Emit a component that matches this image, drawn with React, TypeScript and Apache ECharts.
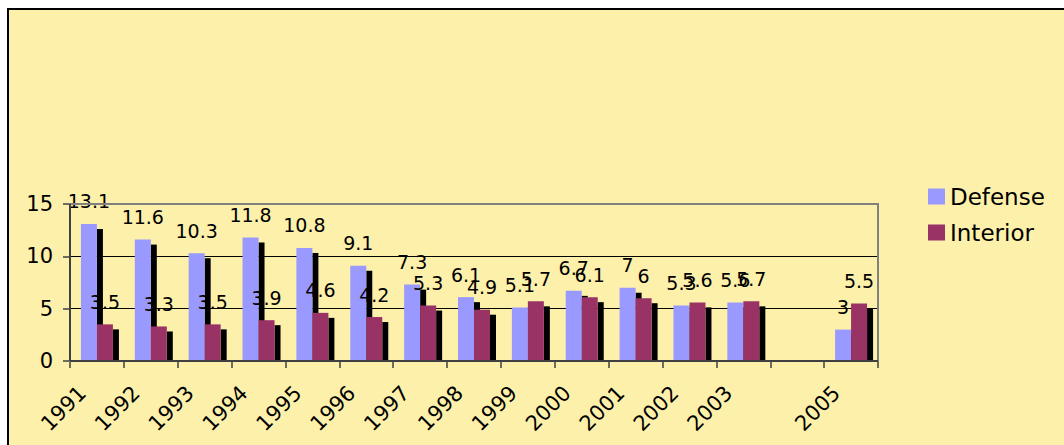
import React, { useEffect, useRef } from "react";
import * as echarts from "echarts";

const years = ["1991", "1992", "1993", "1994", "1995", "1996", "1997", "1998", "1999", "2000", "2001", "2002", "2003", "", "2005"];
const defense: (number | null)[] = [13.1, 11.6, 10.3, 11.8, 10.8, 9.1, 7.3, 6.1, 5.1, 6.7, 7, 5.3, 5.6, null, 3];
const interior: (number | null)[] = [3.5, 3.3, 3.5, 3.9, 4.6, 4.2, 5.3, 4.9, 5.7, 6.1, 6, 5.6, 5.7, null, 5.5];
const yTicks = { min: 0, max: 15, interval: 5 };

const FONT = "DejaVu Sans";
const BAR_W = 16;

function shadowRenderer(offset: number) {
  return (params: any, api: any) => {
    const idx = api.value(0);
    const v = api.value(1);
    if (v == null || isNaN(v)) return null;
    const top = api.coord([idx, v]);
    const base = api.coord([idx, 0]);
    const h = base[1] - top[1] - 5;
    if (h <= 0) return null;
    return {
      type: "rect",
      shape: { x: top[0] + offset, y: top[1] + 5, width: 6, height: h },
      style: { fill: "#000" },
    };
  };
}

export default function App() {
  const ref = useRef<HTMLDivElement>(null);
  useEffect(() => {
    if (!ref.current) return;
    const chart = echarts.init(ref.current, undefined, { renderer: "svg" });
    const labelStyle = {
      show: true,
      position: "top",
      distance: 13,
      color: "#000",
      fontFamily: FONT,
      fontSize: 19,
    };
    chart.setOption({
      animation: false,
      backgroundColor: "transparent",
      grid: { left: 70, right: 186, top: 204, bottom: 84, containLabel: false },
      legend: {
        orient: "vertical",
        left: 928,
        top: 185,
        padding: 0,
        itemWidth: 17,
        itemHeight: 16,
        itemGap: 13,
        icon: "rect",
        data: ["Defense", "Interior"],
        textStyle: { fontFamily: FONT, fontSize: 23, color: "#000", lineHeight: 22 },
      },
      xAxis: {
        type: "category",
        data: years,
        boundaryGap: true,
        axisLine: { show: true, lineStyle: { color: "#404040", width: 2 } },
        axisTick: { show: true, alignWithLabel: false, interval: 0, length: 7, lineStyle: { color: "#404040", width: 1.5 } },
        axisLabel: {
          interval: 0,
          rotate: 45,
          margin: 43,
          color: "#000",
          fontFamily: FONT,
          fontSize: 21,
          verticalAlign: "bottom",
          padding: [0, 0, 10, 0],
        },
        splitLine: { show: false },
      },
      yAxis: {
        type: "value",
        min: yTicks.min,
        max: yTicks.max,
        interval: yTicks.interval,
        axisLine: { show: true, lineStyle: { color: "#404040", width: 2 } },
        axisTick: { show: true, length: 7, lineStyle: { color: "#404040", width: 1.5 } },
        axisLabel: { margin: 17, color: "#000", fontFamily: FONT, fontSize: 21 },
        splitLine: { show: true, lineStyle: { color: "#000", width: 1 } },
      },
      graphic: [
        {
          type: "rect",
          z: 100,
          shape: { x: 70, y: 204, width: 808, height: 157 },
          style: { fill: "none", stroke: "#808080", lineWidth: 2 },
          silent: true,
        },
        {
          type: "line",
          z: 101,
          shape: { x1: 70, y1: 204, x2: 70, y2: 361 },
          style: { stroke: "#404040", lineWidth: 2 },
          silent: true,
        },
        {
          type: "line",
          z: 101,
          shape: { x1: 70, y1: 361, x2: 878, y2: 361 },
          style: { stroke: "#404040", lineWidth: 2 },
          silent: true,
        },
      ],
      series: [
        {
          name: "Defense shadow",
          type: "custom",
          z: 1,
          renderItem: shadowRenderer(0),
          data: defense.map((v, i) => [i, v]),
          encode: { x: 0, y: 1 },
          silent: true,
        },
        {
          name: "Interior shadow",
          type: "custom",
          z: 1,
          renderItem: shadowRenderer(BAR_W),
          data: interior.map((v, i) => [i, v]),
          encode: { x: 0, y: 1 },
          silent: true,
        },
        {
          name: "Defense",
          type: "bar",
          data: defense,
          barWidth: BAR_W,
          barGap: "0%",
          itemStyle: { color: "#9999FF" },
          label: labelStyle,
        },
        {
          name: "Interior",
          type: "bar",
          data: interior,
          barWidth: BAR_W,
          barGap: "0%",
          itemStyle: { color: "#993366" },
          label: labelStyle,
        },
      ],
    });
    return () => chart.dispose();
  }, []);

  return (
    <div style={{ position: "fixed", left: 0, top: 0, width: 1064, height: 445, background: "#fff", overflow: "hidden" }}>
      <div
        style={{
          position: "absolute",
          left: 7,
          top: 8,
          width: 1200,
          height: 600,
          background: "#FDF0AA",
          borderLeft: "2px solid #000",
          borderTop: "2px solid #000",
          boxSizing: "border-box",
        }}
      />
      <div ref={ref} style={{ position: "absolute", left: 0, top: 0, width: 1064, height: 445 }} />
    </div>
  );
}
